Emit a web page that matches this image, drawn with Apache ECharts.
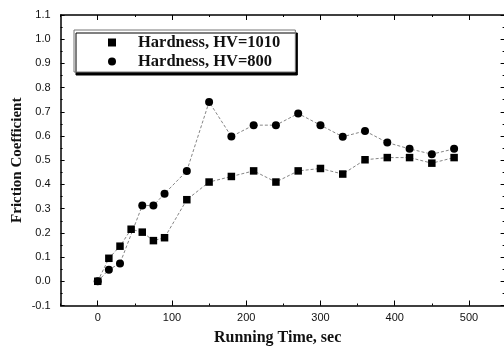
<!DOCTYPE html>
<html>
<head>
<meta charset="utf-8">
<script src="https://cdn.jsdelivr.net/npm/echarts@6/dist/echarts.min.js"></script>
<style>
  html, body { margin: 0; padding: 0; background: #fff; }
  #chart { width: 504px; height: 347px; }
</style>
</head>
<body>
<div id="chart"></div>
<script>
// Running time (s) and friction coefficient for the two hardness levels
const timeHV1010 = [0, 15, 30, 45, 60, 75, 90, 120, 150, 180, 210, 240, 270, 300, 330, 360, 390, 420, 450, 480];
const muHV1010   = [0.00, 0.095, 0.145, 0.215, 0.203, 0.168, 0.18, 0.337, 0.41, 0.433, 0.456, 0.41, 0.456, 0.466, 0.443, 0.502, 0.511, 0.511, 0.488, 0.511];

const timeHV800 = [0, 15, 30, 60, 75, 90, 120, 150, 180, 210, 240, 270, 300, 330, 360, 390, 420, 450, 480];
const muHV800   = [0.00, 0.048, 0.074, 0.313, 0.313, 0.362, 0.456, 0.741, 0.598, 0.645, 0.645, 0.693, 0.645, 0.597, 0.621, 0.573, 0.547, 0.525, 0.547];

const seriesNames = ['Hardness, HV=1010', 'Hardness, HV=800'];
const xMajorTicks = [0, 100, 200, 300, 400, 500];

const pairs = (xs, ys) => xs.map((x, i) => [x, ys[i]]);

const frame = { left: 60.6, top: 15, width: 444, height: 290.5, containLabel: false, outerBoundsMode: 'none' };
const xRange = { min: -50, max: 548 };
const yRange = { min: -0.1, max: 1.1, interval: 0.1 };

const tickFont = { color: '#111', fontFamily: 'Liberation Sans', fontSize: 11 };
const titleFont = { color: '#111', fontFamily: 'Liberation Serif', fontWeight: 'bold', fontSize: 16 };
const frameLine = { onZero: false, lineStyle: { color: '#000', width: 1.5 } };

const chart = echarts.init(document.getElementById('chart'), null, { renderer: 'canvas' });

chart.setOption({
  backgroundColor: '#fff',
  animation: false,
  grid: [
    Object.assign({}, frame),
    Object.assign({}, frame)
  ],
  legend: {
    orient: 'vertical',
    left: 74,
    top: 30,
    padding: [4, 15, 2, 34],
    itemGap: 2,
    itemWidth: 8,
    itemHeight: 8,
    backgroundColor: '#fff',
    borderColor: '#777',
    borderWidth: 1,
    shadowColor: '#000',
    shadowBlur: 0,
    shadowOffsetX: 2,
    shadowOffsetY: 3,
    textStyle: Object.assign({}, titleFont, { fontSize: 16.5, padding: [0, 0, 0, 17] }),
    data: [
      { name: seriesNames[0], icon: 'rect' },
      { name: seriesNames[1], icon: 'circle' }
    ]
  },
  xAxis: [
    {
      gridIndex: 0, type: 'value', position: 'bottom',
      min: xRange.min, max: xRange.max, interval: 50,
      name: 'Running Time, sec', nameLocation: 'middle', nameGap: 24,
      nameMoveOverlap: false,
      nameTextStyle: Object.assign({}, titleFont, { padding: [0, 10, 0, 0] }),
      axisLine: frameLine,
      axisTick: { inside: true, length: 2, lineStyle: { color: '#000' } },
      axisLabel: Object.assign({ margin: 7, formatter: v => (v % 100 === 0 && v >= 0 && v <= 500) ? String(v) : '' }, tickFont),
      splitLine: { show: false }
    },
    {
      gridIndex: 0, type: 'value', position: 'top',
      min: xRange.min, max: xRange.max, interval: 50,
      axisLine: frameLine,
      axisTick: { inside: true, length: 2, lineStyle: { color: '#000' } },
      axisLabel: { show: false },
      splitLine: { show: false }
    },
    {
      gridIndex: 1, type: 'value', position: 'bottom',
      min: xRange.min, max: xRange.max,
      axisLine: { show: false, onZero: false },
      axisTick: { inside: true, length: 5, customValues: xMajorTicks, lineStyle: { color: '#000' } },
      axisLabel: { show: false },
      splitLine: { show: false }
    },
    {
      gridIndex: 1, type: 'value', position: 'top',
      min: xRange.min, max: xRange.max,
      axisLine: { show: false, onZero: false },
      axisTick: { inside: true, length: 5, customValues: xMajorTicks, lineStyle: { color: '#000' } },
      axisLabel: { show: false },
      splitLine: { show: false }
    }
  ],
  yAxis: [
    {
      gridIndex: 0, type: 'value', position: 'left',
      min: yRange.min, max: yRange.max, interval: yRange.interval,
      name: 'Friction Coefficient', nameLocation: 'middle', nameGap: 36,
      nameMoveOverlap: false,
      nameTextStyle: Object.assign({}, titleFont, { fontSize: 15 }),
      axisLine: frameLine,
      axisTick: { inside: true, length: 4, lineStyle: { color: '#000' } },
      minorTick: { show: true, splitNumber: 2, length: 2, lineStyle: { color: '#000' } },
      axisLabel: Object.assign({ margin: 10, formatter: v => v.toFixed(1) }, tickFont),
      splitLine: { show: false }
    },
    {
      gridIndex: 0, type: 'value', position: 'right',
      min: yRange.min, max: yRange.max, interval: yRange.interval,
      axisLine: frameLine,
      axisTick: { inside: true, length: 4, lineStyle: { color: '#000' } },
      minorTick: { show: true, splitNumber: 2, length: 2, lineStyle: { color: '#000' } },
      axisLabel: { show: false },
      splitLine: { show: false }
    },
    {
      gridIndex: 1, type: 'value', show: false,
      axisLine: { onZero: false },
      min: yRange.min, max: yRange.max
    }
  ],
  series: [
    {
      name: seriesNames[1],
      type: 'line',
      xAxisIndex: 0, yAxisIndex: 0,
      data: pairs(timeHV800, muHV800),
      symbol: 'circle', symbolSize: 8,
      itemStyle: { color: '#000' },
      lineStyle: { color: '#666', width: 0.8, type: [3, 2] },
      z: 2
    },
    {
      name: seriesNames[0],
      type: 'line',
      xAxisIndex: 0, yAxisIndex: 0,
      data: pairs(timeHV1010, muHV1010),
      symbol: 'rect', symbolSize: 7.5,
      itemStyle: { color: '#000' },
      lineStyle: { color: '#666', width: 0.8, type: [3, 2] },
      z: 3
    }
  ]
});
</script>
</body>
</html>
